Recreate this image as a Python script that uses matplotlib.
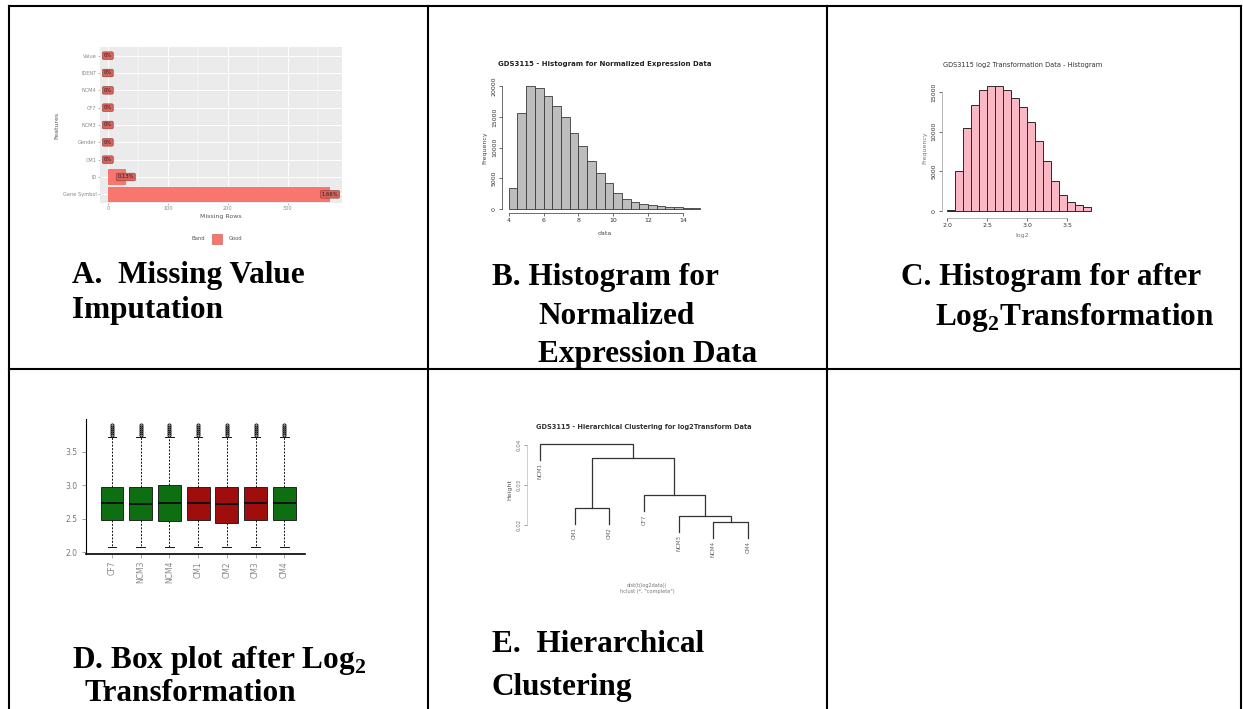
import matplotlib.pyplot as plt
import numpy as np

plt.rcParams['mathtext.fontset'] = 'custom'
plt.rcParams['mathtext.rm'] = 'Liberation Serif:bold'
plt.rcParams['mathtext.bf'] = 'Liberation Serif:bold'
plt.rcParams['font.family'] = 'DejaVu Sans'

#---DATA---
# A. missing value plot
a_features = ["Gene Symbol", "ID", "CM1", "Gender", "NCM3", "CF7", "NCM4", "IDENT", "Value"]
a_missing = [370, 30, 0, 0, 0, 0, 0, 0, 0]
a_labels = ["1.66%", "0.13%", "0%", "0%", "0%", "0%", "0%", "0%", "0%"]
a_xticks = [0, 100, 200, 300]

# B. histogram of normalized expression
b_edges = [4.0, 4.5, 5.0, 5.5, 6.0, 6.5, 7.0, 7.5, 8.0, 8.5, 9.0, 9.5, 10.0,
           10.5, 11.0, 11.5, 12.0, 12.5, 13.0, 13.5, 14.0, 14.5, 15.0]
b_counts = [3370, 15700, 20050, 19680, 18420, 16690, 15050, 12450, 10270, 7880, 5920,
            4180, 2550, 1630, 1200, 760, 650, 540, 380, 270, 160, 110]
b_xticks = [4, 6, 8, 10, 12, 14]
b_yticks = [0, 5000, 10000, 15000, 20000]

# C. histogram after log2
c_edges = [2.0, 2.1, 2.2, 2.3, 2.4, 2.5, 2.6, 2.7, 2.8, 2.9, 3.0,
           3.1, 3.2, 3.3, 3.4, 3.5, 3.6, 3.7, 3.8]
c_counts = [100, 5000, 10400, 13300, 15200, 15760, 15760, 15200, 14200, 13100,
            11200, 8780, 6260, 3740, 1970, 1130, 700, 500]
c_xticks = [2.0, 2.5, 3.0, 3.5]
c_yticks = [0, 5000, 10000, 15000]

# D. boxplot after log2
d_samples = ["CF7", "NCM3", "NCM4", "CM1", "CM2", "CM3", "CM4"]
d_group = ["N", "N", "N", "C", "C", "C", "N"]
d_q1 = [2.475, 2.475, 2.47, 2.475, 2.44, 2.475, 2.475]
d_med = [2.73, 2.72, 2.73, 2.73, 2.72, 2.73, 2.73]
d_q3 = [2.97, 2.97, 3.0, 2.98, 2.98, 2.97, 2.97]
d_wlo = [2.07, 2.07, 2.07, 2.07, 2.07, 2.07, 2.07]
d_whi = [3.73, 3.73, 3.73, 3.73, 3.73, 3.73, 3.73]
d_outliers = [3.76, 3.79, 3.82, 3.85, 3.88, 3.91]
d_yticks = [2.0, 2.5, 3.0, 3.5]

# E. hierarchical clustering (leaves in plotting order, merges as in hclust)
e_leaves = ["NCM1", "CM1", "CM2", "CF7", "NCM3", "NCM4", "CM4"]
e_merges = [(1, 2, 0.0243), (5, 6, 0.0208), (4, 8, 0.0223),
            (3, 9, 0.0275), (7, 10, 0.0368), (0, 11, 0.0403)]
e_hang = 0.004
e_yticks = [0.02, 0.03, 0.04]

W, H = 1243, 709
fig = plt.figure(figsize=(W / 100, H / 100), dpi=100)


def px_axes(x0, y0, x1, y1):
    # axes from pixel box (top-left origin)
    return fig.add_axes([x0 / W, 1 - y1 / H, (x1 - x0) / W, (y1 - y0) / H])


def r_style(ax):
    for s in ['top', 'right']:
        ax.spines[s].set_visible(False)
    ax.tick_params(labelsize=4.5, length=2, width=0.5, colors='#333', pad=1.5)


#---A---
ax = px_axes(100, 47, 342, 203)
ax.set_facecolor('#ebebeb')
ypos = np.arange(len(a_features))
ax.barh(ypos, a_missing, height=0.9, color='#f8766d', zorder=2)
for y, v, lab in zip(ypos, a_missing, a_labels):
    ax.text(v, y, lab, fontsize=3.8, ha='center', va='center', color='#222', zorder=3,
            bbox=dict(boxstyle='round,pad=0.25', fc='#d9625b', ec='#8a3a36', lw=0.4))
ax.set_xlim(-13, 390)
ax.set_ylim(-0.5, len(a_features) - 0.5)
ax.set_xticks(a_xticks)
ax.set_xticks([50, 150, 250, 350], minor=True)
ax.set_yticks(ypos)
ax.set_yticklabels(a_features)
ax.grid(True, which='major', color='white', lw=0.7, zorder=0)
ax.grid(True, which='minor', axis='x', color='white', lw=0.35, zorder=0)
ax.set_axisbelow(True)
for s in ax.spines.values():
    s.set_visible(False)
ax.tick_params(labelsize=3.6, length=1.5, width=0.4, colors='#888', pad=1)
ax.tick_params(which='minor', length=0)
ax.set_xlabel("Missing Rows", fontsize=4.5, color='#555', labelpad=1.5)
ax.set_ylabel("Features", fontsize=4.5, color='#555', labelpad=2)

#---B---
ax = px_axes(500, 80, 709, 214.5)
ax.bar(b_edges[:-1], b_counts, width=np.diff(b_edges), align='edge',
       color='#bdbdbd', edgecolor='#3a3a3a', lw=0.6)
ax.set_xlim(3.5, 15.5)
ax.set_ylim(-900, 21000)
r_style(ax)
ax.spines['left'].set_position(('data', 3.6))
ax.spines['left'].set_bounds(0, 20000)
ax.spines['bottom'].set_position(('data', -650))
ax.spines['bottom'].set_bounds(4, 14)
for s in ['left', 'bottom']:
    ax.spines[s].set_linewidth(0.6)
    ax.spines[s].set_color('#555')
ax.set_xticks(b_xticks)
ax.set_yticks(b_yticks)
ax.set_yticklabels([str(t) for t in b_yticks], rotation=90, va='center')
ax.set_xlabel("data", fontsize=4.5, color='#444', labelpad=6)
ax.set_ylabel("Frequency", fontsize=4.5, color='#444', labelpad=3)
ax.set_title("GDS3115 - Histogram for Normalized Expression Data",
             fontsize=5, fontweight='bold', pad=10, color='#222')

#---C---
c_scale = 119 / 15000  # px per count
ax = px_axes(935, 75, 1110, 220)
ax.bar(c_edges[:-1], c_counts, width=np.diff(c_edges), align='edge',
       color='#f9b8c4', edgecolor='#2a2a2a', lw=0.7)
ax.set_xlim(2.0 - 13 / 86, 2.0 + 175 / 86)
ax.set_ylim(-9 / c_scale, (211 - 75) / c_scale)
r_style(ax)
ax.spines['left'].set_position(('data', 2.0 - 6 / 86))
ax.spines['left'].set_bounds(0, 15000)
ax.spines['bottom'].set_position(('data', -7 / c_scale))
ax.spines['bottom'].set_bounds(2.0, 3.5)
for s in ['left', 'bottom']:
    ax.spines[s].set_linewidth(0.5)
    ax.spines[s].set_color('#999')
ax.set_xticks(c_xticks)
ax.set_yticks(c_yticks)
ax.set_yticklabels([str(t) for t in c_yticks], rotation=90, va='center')
ax.set_xlabel("log2", fontsize=4.5, color='#777', labelpad=4)
ax.set_ylabel("Frequency", fontsize=4.5, color='#777', labelpad=3)
ax.set_title("GDS3115 log2 Transformation Data - Histogram",
             fontsize=4.8, pad=6, color='#333')

#---D---
ax = px_axes(86, 418.6, 305, 554)
stats = []
for i in range(len(d_samples)):
    stats.append(dict(q1=d_q1[i], med=d_med[i], q3=d_q3[i], whislo=d_wlo[i],
                      whishi=d_whi[i], fliers=d_outliers, label=d_samples[i]))
bp = ax.bxp(stats, positions=np.arange(1, len(d_samples) + 1), widths=0.8,
            patch_artist=True, showfliers=True,
            boxprops=dict(edgecolor='#111', lw=0.6),
            medianprops=dict(color='#111', lw=1.4),
            whiskerprops=dict(color='#111', lw=0.7, ls=(0, (2, 1.5))),
            capprops=dict(color='#111', lw=0.7),
            flierprops=dict(marker='o', ms=2.2, mfc='none', mec='#111', mew=0.7))
for patch, g in zip(bp['boxes'], d_group):
    patch.set_facecolor('#0d6e12' if g == 'N' else '#a00d0d')
for cap in bp['caps']:
    x0, x1 = cap.get_xdata()
    xm = (x0 + x1) / 2
    cap.set_xdata([xm - 0.15, xm + 0.15])
ax.set_xlim(1 - 26 / 28.7, 1 + 193 / 28.7)
ax.set_ylim(2.0 - 2 / 66.7, 4.0)
r_style(ax)
ax.spines['left'].set_linewidth(0.8)
ax.spines['bottom'].set_linewidth(1.2)
ax.set_yticks(d_yticks)
ax.set_yticklabels(["%.1f" % t for t in d_yticks])
ax.tick_params(axis='y', labelsize=5.5, colors='#777', length=3, pad=3)
ax.tick_params(axis='x', labelsize=5.5, colors='#888', length=3, pad=2,
               labelrotation=90)
ax.set_xticklabels(d_samples)

#---E---
ax = px_axes(526.8, 440, 760, 540)
n = len(e_leaves)
node_x = list(np.arange(1, n + 1, dtype=float))
node_h = [None] * n
for l, r, h in e_merges:
    for c in (l, r):
        if node_h[c] is None:
            node_h[c] = h - e_hang
    xl, xr = node_x[l], node_x[r]
    ax.plot([xl, xl, xr, xr], [node_h[l], h, h, node_h[r]], color='#333', lw=0.9)
    node_x.append((xl + xr) / 2)
    node_h.append(h)
for i, lab in enumerate(e_leaves):
    ax.text(node_x[i], node_h[i] - 0.0008, lab, rotation=90, ha='center', va='top',
            fontsize=4, color='#666', clip_on=False)
ax.set_xlim(0.62, 7.35)
ax.set_ylim(0.01625, 0.04125)
r_style(ax)
ax.spines['bottom'].set_visible(False)
ax.spines['left'].set_bounds(0.02, 0.04)
ax.spines['left'].set_linewidth(0.4)
ax.spines['left'].set_color('#aaa')
ax.set_xticks([])
ax.set_yticks(e_yticks)
ax.set_yticklabels(["%.2f" % t for t in e_yticks], rotation=90, va='center')
ax.tick_params(axis='y', labelsize=4, colors='#777')
ax.set_ylabel("Height", fontsize=4.5, color='#555', labelpad=3)
ax.set_title("GDS3115 - Hierarchical Clustering for log2Transform Data",
             fontsize=4.8, fontweight='bold', pad=8, color='#333')

#---TABLE + CAPTIONS---
ov = fig.add_axes([0, 0, 1, 1], zorder=10)
ov.set_xlim(0, W)
ov.set_ylim(H, 0)
ov.axis('off')
ov.patch.set_alpha(0)

# panel A legend
ov.text(205, 239, "Band", fontsize=3.8, color='#555', ha='right', va='center')
ov.add_patch(plt.Rectangle((212, 234), 10, 10, fc='#f8766d', ec='#c05550', lw=0.4))
ov.text(229, 239, "Good", fontsize=3.8, color='#555', ha='left', va='center')

# dendrogram sub captions
ov.text(647, 585, "dist(t(log2data))", fontsize=3.6, color='#777', ha='center', va='center')
ov.text(647, 592, 'hclust (*, "complete")', fontsize=3.6, color='#777', ha='center', va='center')

lw = 1.5
ov.plot([9, 1241], [6, 6], color='k', lw=lw, solid_capstyle='projecting')
ov.plot([9, 1241], [369, 369], color='k', lw=lw)
for x in [9, 428, 827, 1241]:
    ov.plot([x, x], [6, H], color='k', lw=lw)

cap = dict(fontfamily='Liberation Serif', fontweight='bold', fontsize=22.5, va='baseline', color='k')
ov.text(72, 283, "A.  Missing Value", **cap)
ov.text(72, 318, "Imputation", **cap)
ov.text(492, 285, "B. Histogram for", **cap)
ov.text(538, 324, "Normalized", **cap)
ov.text(538, 362, "Expression Data", **cap)
ov.text(901, 285, "C. Histogram for after", **cap)
ov.text(935, 325, r"Log$_\mathrm{2}$Transformation", **cap)
ov.text(72, 668, r"D. Box plot after Log$_\mathrm{2}$", **cap)
ov.text(85, 701, "Transformation", **cap)
ov.text(492, 652, "E.  Hierarchical", **cap)
ov.text(492, 695, "Clustering", **cap)

plt.savefig("out.png", dpi=100)
